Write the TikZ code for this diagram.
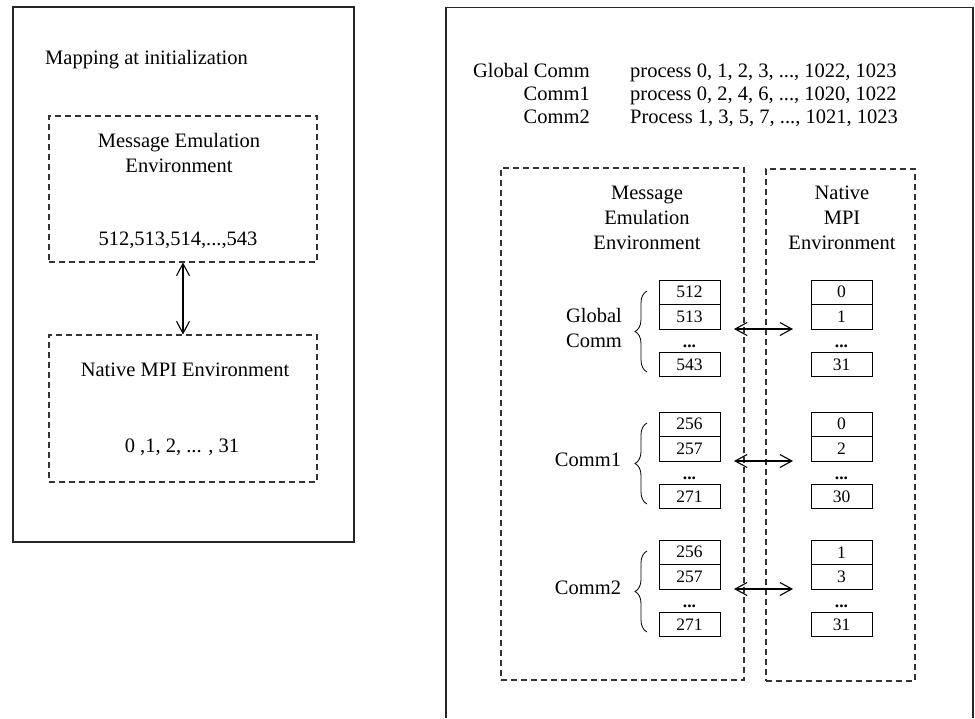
\documentclass[tikz,border=0pt]{standalone}
\usepackage{fontspec}
\setmainfont{Liberation Serif}
\usetikzlibrary{arrows.meta,decorations.pathreplacing}
\begin{document}
\begin{tikzpicture}[x=1pt,y=-1pt,
  txt/.style={font=\fontsize{20.5}{25}\selectfont, inner sep=0pt, align=center},
  env/.style={draw=black!80, dash pattern=on 6pt off 4pt, line width=1.1pt, inner sep=0pt},
  cell/.style={draw, line width=1pt, minimum width=61pt, minimum height=24.5pt, inner sep=0pt, font=\fontsize{17.5}{20}\selectfont},
  dotsn/.style={font=\fontsize{17.5}{20}\selectfont\bfseries, inner sep=0pt},
  link/.style={{Straight Barb[length=12pt,width=13pt]}-{Straight Barb[length=12pt,width=13pt]}, line width=1.1pt},
  panel/.style={draw=black!85, line width=1.2pt},
  brc/.style={decorate, decoration={brace, amplitude=12pt}, line width=0.8pt}
]
\useasboundingbox (0,0) rectangle (975,718);

% ---------- left panel ----------
\node[panel, minimum width=341pt, minimum height=535pt, inner sep=0pt] (leftpanel) at (183.5,274.5) {};
\node[txt, anchor=base west] (title) at (45,64) {Mapping at initialization};
\node[env, minimum width=268pt, minimum height=146pt] (me1) at (183,189) {};
\node[env, minimum width=268pt, minimum height=147pt] (nat1) at (183,408.5) {};
\draw[link] (me1.south) -- (nat1.north);
\node[txt] (me1t) at (179,152.5) {Message Emulation\\Environment};
\node[txt] (me1n) at (178,240) {512,513,514,...,543};
\node[txt] (nat1t) at (185,370) {Native MPI Environment};
\node[txt] (nat1n) at (182,447) {0 ,1, 2, ... , 31};

% ---------- right panel ----------
\coordinate (rpbl) at (446,718);
\coordinate (rptl) at (446,7.5);
\coordinate (rptr) at (973,7.5);
\coordinate (rpbr) at (973,718);
\draw[panel] (rpbl) -- (rptl) -- (rptr) -- (rpbr);

\node[txt, anchor=base east] (hg) at (590,77) {Global Comm};
\node[txt, anchor=base east] (h1) at (590,100) {Comm1};
\node[txt, anchor=base east] (h2) at (590,123) {Comm2};
\node[txt, anchor=base west] (pg) at (630,77) {process 0, 1, 2, 3, ..., 1022, 1023};
\node[txt, anchor=base west] (p1) at (630,100) {process 0, 2, 4, 6, ..., 1020, 1022};
\node[txt, anchor=base west] (p2) at (630,123) {Process 1, 3, 5, 7, ..., 1021, 1023};

\node[env, minimum width=243pt, minimum height=512pt] (me2) at (622.5,424) {};
\node[env, minimum width=149pt, minimum height=512pt] (nat2) at (840.5,425) {};
\node[txt] (me2t) at (647,218) {Message\\Emulation\\Environment};
\node[txt] (nat2t) at (842,218) {Native\\MPI\\Environment};

\foreach \g/\T/\a/\b/\c/\d/\e/\f/\lab/\lx in
  {g/280/512/513/543/0/1/31/{Global\\Comm}/594,
   ca/412/256/257/271/0/2/30/Comm1/588,
   cb/540/256/257/271/1/3/31/Comm2/588}{
  \node[cell] (\g L1) at (689.5,{\T+12.25}) {\a};
  \node[cell] (\g L2) at (689.5,{\T+36.75}) {\b};
  \node[dotsn] (\g Ld) at (689.5,{\T+66}) {...};
  \node[cell] (\g L3) at (689.5,{\T+84.5}) {\c};
  \node[cell] (\g R1) at (841.5,{\T+12.25}) {\d};
  \node[cell] (\g R2) at (841.5,{\T+36.75}) {\e};
  \node[dotsn] (\g Rd) at (841.5,{\T+66}) {...};
  \node[cell] (\g R3) at (841.5,{\T+84.5}) {\f};
  \coordinate (\g A) at (734,{\T+49});
  \coordinate (\g B) at (793,{\T+49});
  \draw[link] (\g A) -- (\g B);
  \coordinate (\g BrB) at (647,{\T+92});
  \coordinate (\g BrT) at (647,{\T+11});
  \draw[brc] (\g BrB) -- (\g BrT);
  \node[txt] (\g lab) at (\lx,{\T+48}) {\lab};
}
\end{tikzpicture}
\end{document}
